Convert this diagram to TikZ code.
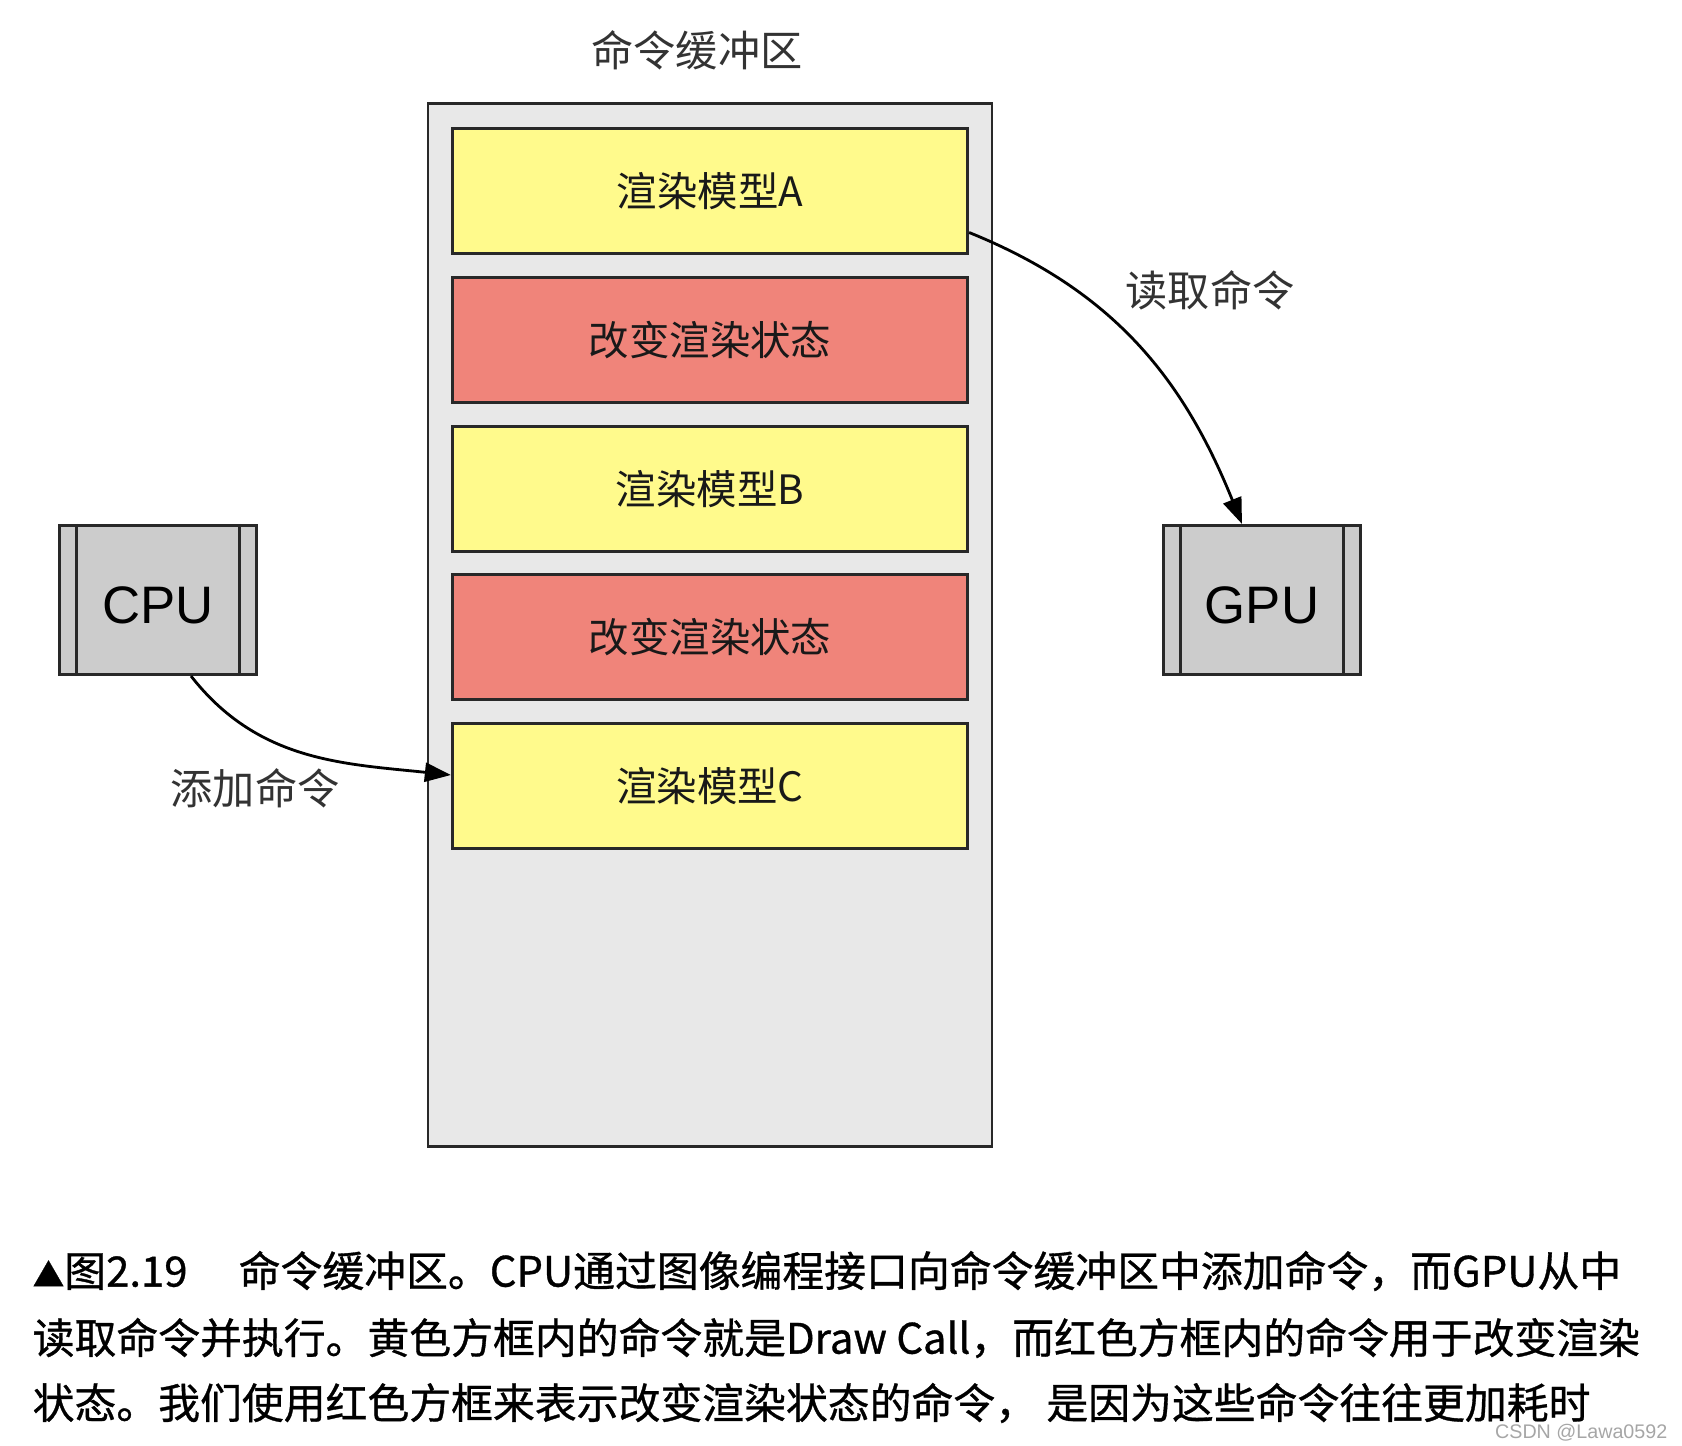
\documentclass[tikz,border=0pt]{standalone}
\usepackage{fontspec}
\usepackage{xcolor}
\setmainfont{Noto Sans CJK SC}
\newfontfamily\latinsans{Liberation Sans}
\newfontfamily\capfont[FakeBold=0.8]{Noto Sans CJK SC}
\usetikzlibrary{arrows.meta,positioning}

\definecolor{bufgray}{RGB}{232,232,232}
\definecolor{drawyellow}{RGB}{255,250,140}
\definecolor{statered}{RGB}{240,132,122}
\definecolor{unitgray}{RGB}{204,204,204}
\definecolor{inkgray}{RGB}{40,40,40}

\begin{document}
\begin{tikzpicture}[x=0.01cm,y=-0.01cm,
	cmdbox/.style={draw=inkgray,line width=0.85pt,minimum width=5.15cm,minimum height=1.24cm,
		inner sep=0pt,text=black!90,font=\fontsize{11.5}{13}\selectfont},
	drawcall/.style={cmdbox,fill=drawyellow},
	statechange/.style={cmdbox,fill=statered},
	unit/.style={draw=inkgray,line width=0.85pt,fill=unitgray,minimum width=1.96cm,
		minimum height=1.49cm,inner sep=0pt,font=\latinsans\fontsize{15}{17}\selectfont},
	label/.style={text=black!80,font=\fontsize{12}{14}\selectfont},
	caption/.style={anchor=west,inner sep=0pt,font=\capfont\fontsize{11.9}{14}\selectfont},
	cmdarrow/.style={line width=0.8pt,-{Triangle[length=0.26cm,width=0.19cm]}}]
	\useasboundingbox (0,0) rectangle (1682,1446);

	% Nodes
	\node[label] (title) at (697,50) {命令缓冲区};
	\node[draw=inkgray,line width=0.7pt,fill=bufgray,minimum width=5.64cm,minimum height=10.42cm] (buffer) at (710,625) {};
	\node[drawcall] (modelA) at (710,191) {渲染模型A};
	\node[statechange] (stateA) at (710,340) {改变渲染状态};
	\node[drawcall] (modelB) at (710,489) {渲染模型B};
	\node[statechange] (stateB) at (710,637) {改变渲染状态};
	\node[drawcall] (modelC) at (710,786) {渲染模型C};

	\node[unit] (cpu) at (158,600) {\raisebox{-0.45em}[0pt][0pt]{CPU}};
	\node[unit] (gpu) at (1262,600) {\raisebox{-0.45em}[0pt][0pt]{GPU}};
	\foreach \u in {cpu,gpu} {
		\draw[line width=0.85pt,inkgray] ([xshift=0.18cm]\u.north west) -- ([xshift=0.18cm]\u.south west);
		\draw[line width=0.85pt,inkgray] ([xshift=-0.18cm]\u.north east) -- ([xshift=-0.18cm]\u.south east);
	}

	\node[label] (readlbl) at (1210,290) {读取命令};
	\node[label] (addlbl) at (255,788) {添加命令};

	% Edges
	\draw[cmdarrow] ([yshift=0.22cm]modelA.south east) to[out=-22,in=112] ([xshift=-0.2cm]gpu.north);
	\draw[cmdarrow] ([xshift=0.33cm]cpu.south) to[out=-52,in=174] ([yshift=0.11cm]modelC.west);

	% Caption
	\node[caption] (cap1) at (32,1271) {{\fontsize{9}{10}\selectfont▲}图2.19　 命令缓冲区。CPU通过图像编程接口向命令缓冲区中添加命令，而GPU从中};
	\node[caption] (cap2) at (32,1338) {读取命令并执行。黄色方框内的命令就是Draw Call，而红色方框内的命令用于改变渲染};
	\node[caption] (cap3) at (32,1403) {状态。我们使用红色方框来表示改变渲染状态的命令， 是因为这些命令往往更加耗时};
	\node[anchor=east,inner sep=0pt,text=black!35,font=\latinsans\fontsize{5.6}{7}\selectfont] (mark) at (1668,1433) {CSDN @Lawa0592};
\end{tikzpicture}
\end{document}
